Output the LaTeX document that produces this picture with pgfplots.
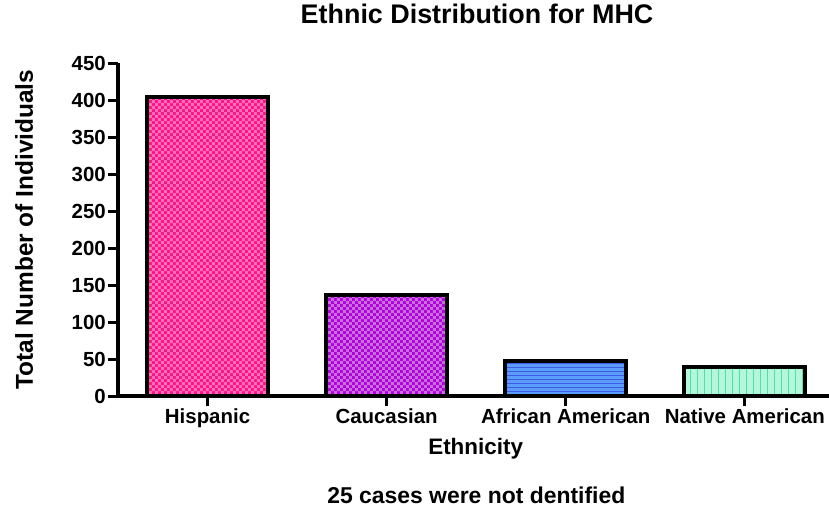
\documentclass[border=0pt]{standalone}
\usepackage{pgfplots}
\pgfplotsset{compat=1.18}
\usepackage{fontspec}
\setmainfont{Liberation Sans}
\usetikzlibrary{patterns}
\definecolor{hisp}{HTML}{FF1188}
\definecolor{hispL}{HTML}{FF70B8}
\definecolor{cauc}{HTML}{B000E0}
\definecolor{caucL}{HTML}{C870D8}
\definecolor{afro}{HTML}{5A9CFF}
\definecolor{afroL}{HTML}{3E5CE6}
\definecolor{nat}{HTML}{B4F6DC}
\definecolor{natL}{HTML}{50E0A2}
\pgfdeclarepatternformonly{chk}{\pgfpointorigin}{\pgfqpoint{6pt}{6pt}}{\pgfqpoint{6pt}{6pt}}{%
  \pgfpathrectangle{\pgfpointorigin}{\pgfqpoint{3pt}{3pt}}%
  \pgfpathrectangle{\pgfqpoint{3pt}{3pt}}{\pgfqpoint{3pt}{3pt}}%
  \pgfusepath{fill}}
\pgfdeclarepatternformonly{hl}{\pgfqpoint{-1pt}{-1pt}}{\pgfqpoint{5pt}{1pt}}{\pgfqpoint{4pt}{4pt}}{%
  \pgfsetlinewidth{0.9pt}%
  \pgfpathmoveto{\pgfqpoint{-1pt}{0pt}}\pgfpathlineto{\pgfqpoint{5pt}{0pt}}%
  \pgfusepath{stroke}}
\pgfdeclarepatternformonly{vl}{\pgfqpoint{-1pt}{-1pt}}{\pgfqpoint{1pt}{8pt}}{\pgfqpoint{7pt}{7pt}}{%
  \pgfsetlinewidth{0.9pt}%
  \pgfpathmoveto{\pgfqpoint{0pt}{-1pt}}\pgfpathlineto{\pgfqpoint{0pt}{8pt}}%
  \pgfusepath{stroke}}
\begin{document}
\begin{tikzpicture}
\path[use as bounding box] (-118bp,-123bp) rectangle (711bp,396bp);
\begin{axis}[
  at={(0,0)}, anchor=south west,
  scale only axis, width=711bp, height=333bp,
  xmin=-0.5, xmax=3.47, ymin=0, ymax=450,
  axis x line*=bottom, axis y line*=left,
  every outer x axis line/.append style={-, line width=4.5bp, black},
  every outer y axis line/.append style={-, line width=4.5bp, black},
  axis line style={-, line width=4.5bp, black},
  xtick={0,1,2,3},
  xticklabels={Hispanic, Caucasian, African American, Native American},
  ytick={0,50,...,450},
  tick align=outside,
  major tick length=10bp,
  every tick/.style={line width=3bp, black},
  /pgf/number format/assume math mode=true,
  tick label style={font=\bfseries\fontsize{20.5}{24}\selectfont},
  xticklabel style={inner sep=2bp},
  yticklabel style={inner sep=2bp},
  title={Ethnic Distribution for MHC},
  title style={at={(axis description cs:0.505,1.129)}, anchor=center, font=\bfseries\fontsize{27}{32}\selectfont},
  xlabel={Ethnicity},
  xlabel style={at={(axis description cs:0.503,-0.159)}, anchor=center, font=\bfseries\fontsize{22.5}{27}\selectfont},
  ylabel={Total Number of Individuals},
  ylabel style={at={(axis description cs:-0.132,0.5)}, anchor=center, font=\bfseries\fontsize{24.5}{29}\selectfont},
  clip=false,
]
\addplot[ybar, bar width=121bp, bar shift=0pt, draw=black, line width=4bp,
  preaction={fill=hisp}, pattern=chk, pattern color=hispL] coordinates {(0,404)};
\addplot[ybar, bar width=121bp, bar shift=0pt, draw=black, line width=4bp,
  preaction={fill=cauc}, pattern=chk, pattern color=caucL] coordinates {(1,136)};
\addplot[ybar, bar width=121bp, bar shift=0pt, draw=black, line width=4bp,
  preaction={fill=afro}, pattern=hl, pattern color=afroL] coordinates {(2,47)};
\addplot[ybar, bar width=121bp, bar shift=0pt, draw=black, line width=4bp,
  preaction={fill=nat}, pattern=vl, pattern color=natL] coordinates {(3,39)};
\node[font=\bfseries\fontsize{23}{27}\selectfont, anchor=center] at (axis description cs:0.504,-0.297) {25 cases were not dentified};
\end{axis}
\end{tikzpicture}
\end{document}
